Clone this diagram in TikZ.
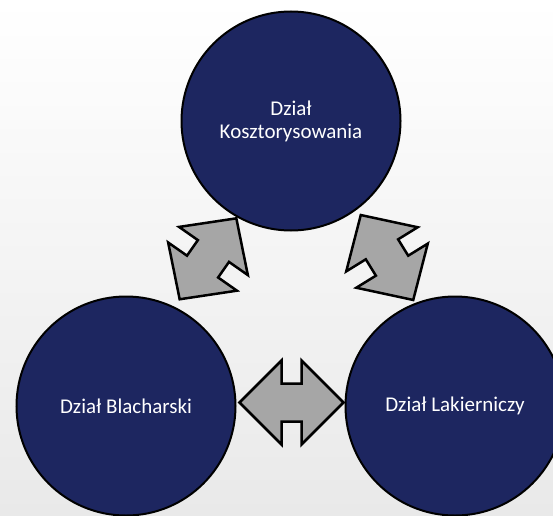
\documentclass[tikz,border=0pt]{standalone}
\usepackage{fontspec}
\setmainfont{Carlito}
\definecolor{navy}{HTML}{1D2660}
\definecolor{arrgray}{HTML}{A6A6A6}
\definecolor{bgmid}{HTML}{F8F8F8}
\definecolor{bgbot}{HTML}{E9E9E9}
\begin{document}
\begin{tikzpicture}[x=1pt,y=1pt,
  dept/.style={circle, draw=black, line width=2pt, fill=navy, minimum size=219pt,
    inner sep=0pt, text=white, font=\fontsize{21}{23}\selectfont, align=center},
  blockarrow/.style={draw=black, line width=2.5pt, fill=arrgray, line join=miter},
  pics/dblarrow/.style={code={
    \draw[blockarrow] (52,0) -- (10,42) -- (10,19) -- (-10,19) -- (-10,42)
      -- (-52,0) -- (-10,-42) -- (-10,-19) -- (10,-19) -- (10,-42) -- cycle;}}
]
\useasboundingbox (0,0) rectangle (553,515);
\clip (0,0) rectangle (553,515);
\shade[top color=white, middle color=bgmid, bottom color=bgbot] (0,0) rectangle (553,515);

\node[dept] (kosz) at (291,394) {Dział\\Kosztorysowania};
\node[dept] (blach) at (126,109) {Dział Blacharski};
\node[dept] (lak) at (455,109) {Dział Lakierniczy};

\pic at (291.5,112.5) {dblarrow};
\pic[rotate=55, xscale=0.95] at (208,256.2) {dblarrow};
\pic[rotate=121.7, xscale=0.96] at (387,257.5) {dblarrow};
\end{tikzpicture}
\end{document}
